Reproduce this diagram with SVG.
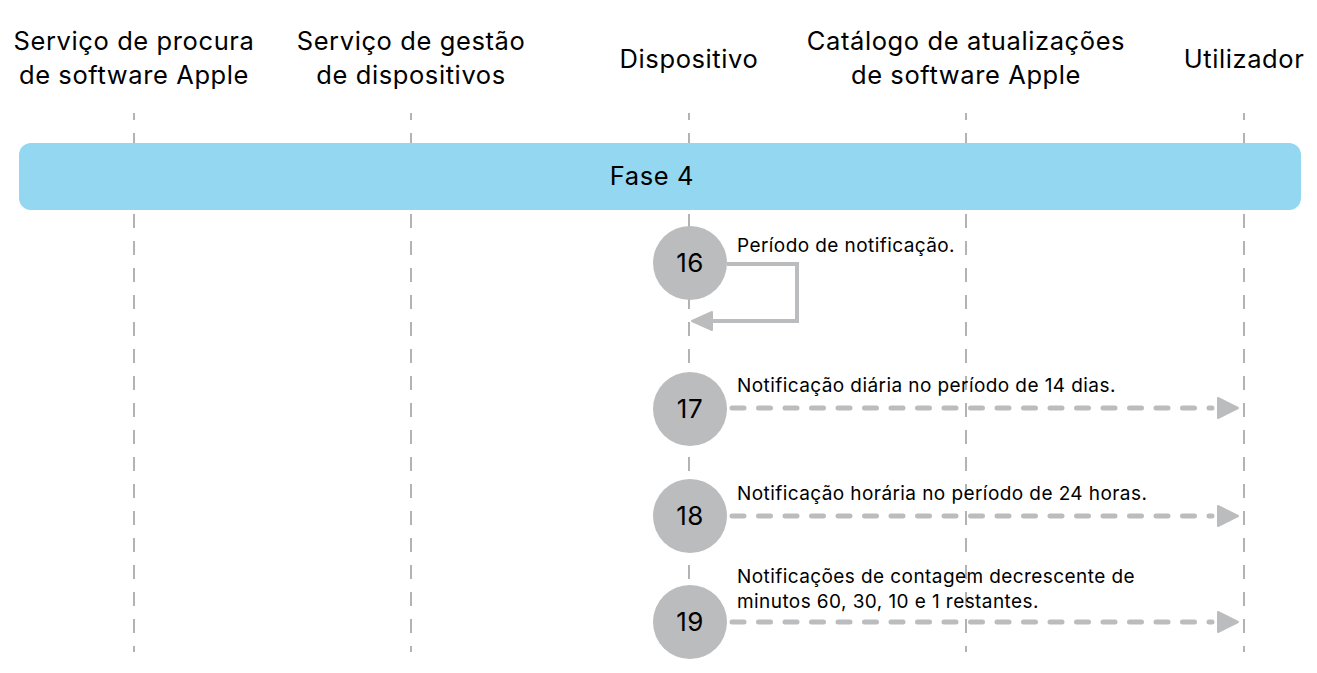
<svg xmlns="http://www.w3.org/2000/svg" width="1317" height="673" viewBox="0 0 1317 673">
<style>
.hdr{font-family:Inter,"Liberation Sans",sans-serif;font-size:25.5px;letter-spacing:0.6px;fill:#000;text-anchor:middle}
.lbl{font-family:Inter,"Liberation Sans",sans-serif;font-size:19px;letter-spacing:0.42px;fill:#000}
.num{font-family:Inter,"Liberation Sans",sans-serif;font-size:26px;letter-spacing:0.5px;fill:#000;text-anchor:middle}
.life{stroke:#9a9a9a;stroke-width:1.5;stroke-dasharray:14 13;stroke-dashoffset:7;fill:none}
.step{fill:#bbbcbe}
.msg{stroke:#bbbcbe;stroke-width:5;fill:none;stroke-dasharray:12 14.5;stroke-linecap:round}
.loop{stroke:#bbbcbe;stroke-width:4;fill:none}
.head{fill:#bbbcbe;stroke:#bbbcbe;stroke-width:2;stroke-linejoin:round}
</style>
<g id="headers">
<g id="h1"><text class="hdr" x="134" y="50">Serviço de procura</text><text class="hdr" x="134" y="84">de software Apple</text></g>
<g id="h2"><text class="hdr" x="411" y="50">Serviço de gestão</text><text class="hdr" x="411" y="84">de dispositivos</text></g>
<g id="h3"><text class="hdr" x="689" y="68">Dispositivo</text></g>
<g id="h4"><text class="hdr" x="966" y="50">Catálogo de atualizações</text><text class="hdr" x="966" y="84">de software Apple</text></g>
<g id="h5"><text class="hdr" x="1244" y="68">Utilizador</text></g>
</g>
<g id="lifelines">
<line class="life" x1="134" y1="113" x2="134" y2="652"/>
<line class="life" x1="411" y1="113" x2="411" y2="652"/>
<line class="life" x1="689" y1="113" x2="689" y2="652"/>
<line class="life" x1="966" y1="113" x2="966" y2="652"/>
<line class="life" x1="1244" y1="113" x2="1244" y2="652"/>
</g>
<g id="phase">
<rect x="19" y="143" width="1282" height="67" rx="12" fill="#94d7f0"/>
<text class="hdr" x="652" y="185">Fase 4</text>
</g>
<g id="connectors">
<path class="loop" d="M727,264 L797,264 L797,321 L712,321"/>
<path class="head" d="M692,321 L712,312 L712,330 Z"/>
<line class="msg" x1="732" y1="408" x2="1212" y2="408"/>
<path class="head" d="M1238,408 L1218,398 L1218,418 Z"/>
<line class="msg" x1="732" y1="516" x2="1212" y2="516"/>
<path class="head" d="M1238,516 L1218,506 L1218,526 Z"/>
<line class="msg" x1="732" y1="622" x2="1212" y2="622"/>
<path class="head" d="M1238,622 L1218,612 L1218,632 Z"/>
</g>
<g id="s16"><circle class="step" cx="690" cy="263" r="37"/><text class="num" x="690" y="272">16</text><text class="lbl" x="737" y="252">Período de notificação.</text></g>
<g id="s17"><circle class="step" cx="690" cy="409" r="37"/><text class="num" x="690" y="418">17</text><text class="lbl" x="737" y="392">Notificação diária no período de 14 dias.</text></g>
<g id="s18"><circle class="step" cx="690" cy="516" r="37"/><text class="num" x="690" y="525">18</text><text class="lbl" x="737" y="500">Notificação horária no período de 24 horas.</text></g>
<g id="s19"><circle class="step" cx="690" cy="622" r="37"/><text class="num" x="690" y="631">19</text><text class="lbl" x="737" y="583">Notificações de contagem decrescente de</text><text class="lbl" x="737" y="608">minutos 60, 30, 10 e 1 restantes.</text></g>
</svg>
